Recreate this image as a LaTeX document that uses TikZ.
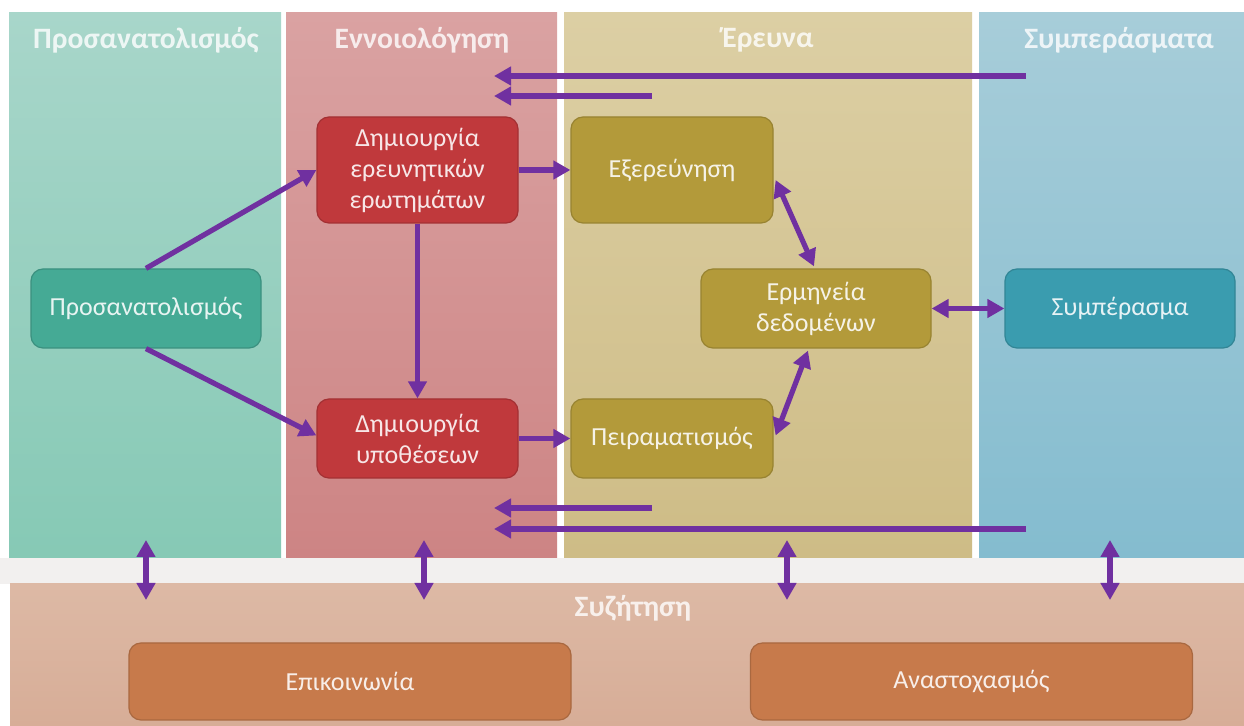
\documentclass[tikz,border=0pt]{standalone}
\usepackage{fontspec}
\setmainfont{Carlito}
\usetikzlibrary{arrows.meta,calc}
\definecolor{arrowc}{HTML}{7030A0}
\definecolor{c1top}{HTML}{A8D6CA}
\definecolor{c1bot}{HTML}{86C9B5}
\definecolor{c2top}{HTML}{DAA2A2}
\definecolor{c2bot}{HTML}{CD8484}
\definecolor{c3top}{HTML}{DCCFA4}
\definecolor{c3bot}{HTML}{CEBC86}
\definecolor{c4top}{HTML}{A7CDD9}
\definecolor{c4bot}{HTML}{84BCCF}
\definecolor{bandtop}{HTML}{DDB9A5}
\definecolor{bandbot}{HTML}{D7AD97}
\definecolor{gapc}{HTML}{F2F0EF}
\definecolor{tealn}{HTML}{45AA95}
\definecolor{redn}{HTML}{C0393C}
\definecolor{oliven}{HTML}{B39A3A}
\definecolor{bluen}{HTML}{3A9CAF}
\definecolor{brownn}{HTML}{C77A4B}
\tikzset{
  box/.style={rounded corners=6pt, line width=0.6pt, text=white, text opacity=0.88,
    font=\fontsize{13}{15.5}\selectfont, align=center, inner sep=0pt},
  hdr/.style={text=white, text opacity=0.8, font=\bfseries\fontsize{14.8}{17}\selectfont, inner sep=0pt},
  arr/.style={draw=arrowc, line width=2.6pt, -{Triangle[length=8.5pt,width=9pt]}},
  darr/.style={draw=arrowc, line width=2.6pt, {Triangle[length=8.5pt,width=9pt]}-{Triangle[length=8.5pt,width=9pt]}}
}
\begin{document}
\begin{tikzpicture}[x=0.5pt,y=-0.5pt]
\useasboundingbox (0,0) rectangle (1244,726);
\fill[white] (0,0) rectangle (1244,726);
\fill[gapc] (0,558) rectangle (1244,584);
% columns
\shade[top color=c1top, bottom color=c1bot] (9,13) rectangle (281,558);
\shade[top color=c2top, bottom color=c2bot] (286,13) rectangle (557,558);
\shade[top color=c3top, bottom color=c3bot] (564,13) rectangle (972,558);
\shade[top color=c4top, bottom color=c4bot] (979,13) rectangle (1244,558);
\shade[top color=bandtop, bottom color=bandbot] (10,584) rectangle (1244,726);
% headers
\node[hdr] (h1) at (146,40) {Προσανατολισμός};
\node[hdr] (h2) at (422,40) {Εννοιολόγηση};
\node[hdr] (h3) at (768,40) {Έρευνα};
\node[hdr] (h4) at (1119,40) {Συμπεράσματα};
\node[hdr] (h5) at (633,608) {Συζήτηση};
% nodes
\node[box, fill=tealn, draw=tealn!85!black, minimum width=115pt, minimum height=39.5pt] (P) at (146,308.5) {Προσανατολισμός};
\node[box, fill=redn, draw=redn!85!black, minimum width=100.5pt, minimum height=53pt] (Q1) at (417.5,170) {Δημιουργία\\ερευνητικών\\ερωτημάτων};
\node[box, fill=redn, draw=redn!85!black, minimum width=100.5pt, minimum height=39.5pt] (Q2) at (417.5,438.5) {Δημιουργία\\υποθέσεων};
\node[box, fill=oliven, draw=oliven!85!black, minimum width=101pt, minimum height=53pt] (E) at (672,170) {Εξερεύνηση};
\node[box, fill=oliven, draw=oliven!85!black, minimum width=101pt, minimum height=39.5pt] (Pe) at (672,438.5) {Πειραματισμός};
\node[box, fill=oliven, draw=oliven!85!black, minimum width=115pt, minimum height=39.5pt] (R) at (816,308.5) {Ερμηνεία\\δεδομένων};
\node[box, fill=bluen, draw=bluen!85!black, minimum width=115pt, minimum height=39.5pt] (S) at (1120,308.5) {Συμπέρασμα};
\node[box, fill=brownn, draw=brownn!85!black, minimum width=221pt, minimum height=38.5pt] (K) at (350,681.5) {Επικοινωνία};
\node[box, fill=brownn, draw=brownn!85!black, minimum width=221pt, minimum height=38.5pt] (A) at (971.5,681.5) {Αναστοχασμός};
% free-end coordinates
\coordinate (t1s) at (1026,76);
\coordinate (t1e) at (494,76);
\coordinate (t2s) at (652,96);
\coordinate (t2e) at (494,96);
\coordinate (b1s) at (652,508);
\coordinate (b1e) at (494,508);
\coordinate (b2s) at (1026,529);
\coordinate (b2e) at (494,529);
\coordinate (v1a) at (146,540); \coordinate (v1b) at (146,600);
\coordinate (v2a) at (424,540); \coordinate (v2b) at (424,600);
\coordinate (v3a) at (787,540); \coordinate (v3b) at (787,600);
\coordinate (v4a) at (1110,540); \coordinate (v4b) at (1110,600);
% connectors
\draw[arr] (P.north) -- (Q1.west);
\draw[arr] (P.south) -- ($(Q2.west)+(0,-3)$);
\draw[arr] (Q1.south) -- (Q2.north);
\draw[arr] (Q1.east) -- (E.west);
\draw[arr] (Q2.east) -- (Pe.west);
\draw[darr] ($(E.east)+(2,10)$) -- ($(R.north)+(-2,-2)$);
\draw[darr] ($(Pe.east)+(2,-3)$) -- ($(R.south)+(-8,2)$);
\draw[darr] (R.east) -- (S.west);
\draw[arr] (t1s) -- (t1e);
\draw[arr] (t2s) -- (t2e);
\draw[arr] (b1s) -- (b1e);
\draw[arr] (b2s) -- (b2e);
\draw[darr] (v1a) -- (v1b);
\draw[darr] (v2a) -- (v2b);
\draw[darr] (v3a) -- (v3b);
\draw[darr] (v4a) -- (v4b);
\end{tikzpicture}
\end{document}
